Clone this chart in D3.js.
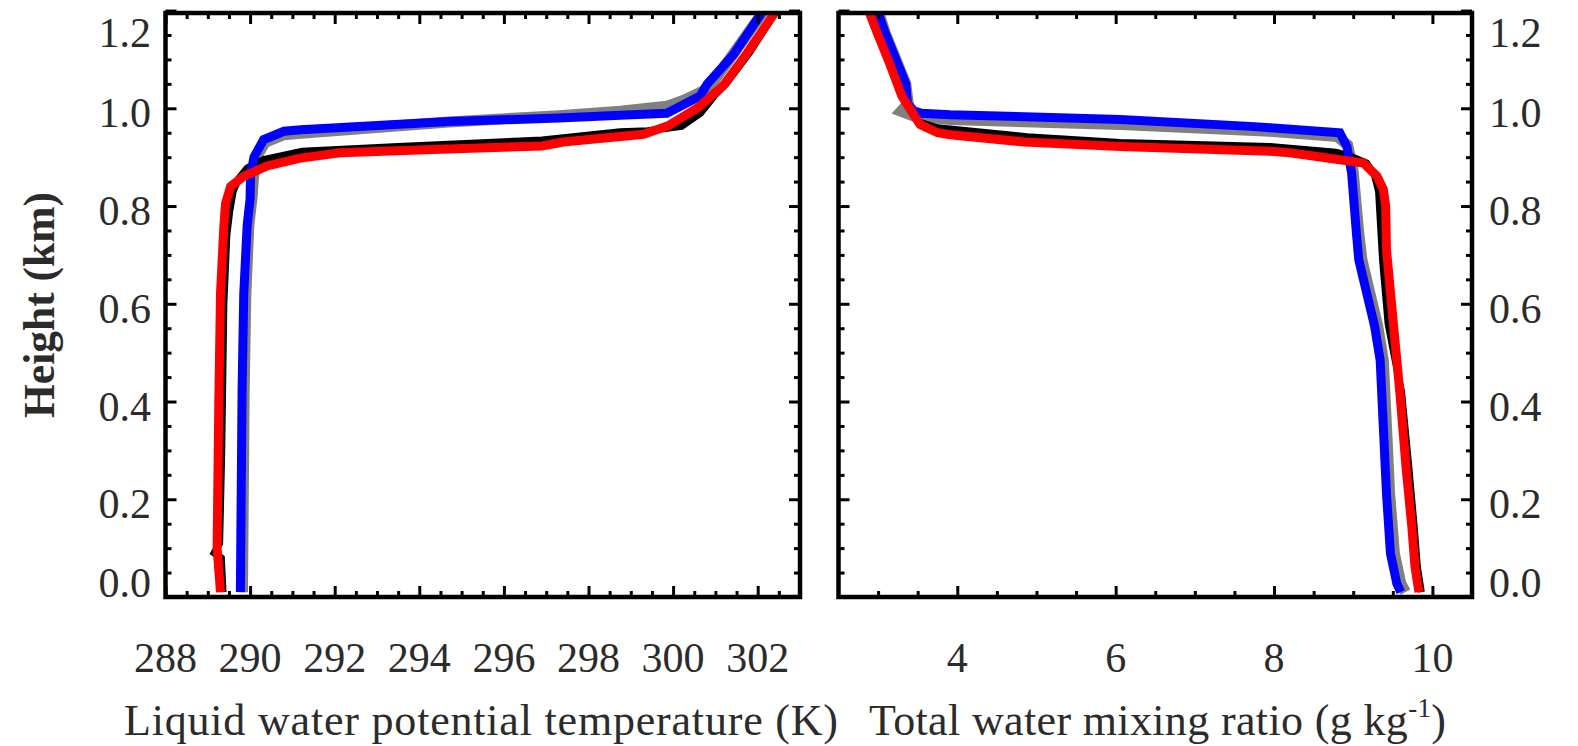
<!DOCTYPE html>
<html>
<head>
<meta charset="utf-8">
<script src="https://cdn.jsdelivr.net/npm/d3@7"></script>
<style>
  html, body { margin: 0; padding: 0; background: #fff; }
  svg { display: block; }
</style>
</head>
<body>
<svg id="chart" width="1578" height="746"></svg>
<script>
// ---- Profiles: [value, height (km)] ----
// Liquid water potential temperature (K)
const thlGray = [[289.82,0.01],[289.86,0.42],[289.90,0.62],[289.97,0.76],[290.05,0.82],[290.08,0.86],[290.15,0.90],[290.35,0.93],[290.8,0.946],[291.2,0.949],[294.7,0.972],[297.3,0.985],[298.75,0.994],[299.85,1.004],[300.3,1.018],[300.7,1.035],[301.0,1.06],[301.43,1.112],[302.15,1.2]];
const thlBlack = [[289.36,0.01],[289.32,0.08],[289.15,0.09],[289.28,0.11],[289.33,0.30],[289.38,0.60],[289.45,0.74],[289.52,0.79],[289.60,0.83],[289.72,0.855],[289.93,0.878],[290.32,0.895],[291.23,0.912],[293.5,0.922],[296.9,0.935],[298.75,0.952],[299.4,0.954],[300.2,0.963],[300.65,0.99],[301.0,1.028],[301.25,1.05],[301.8,1.113],[302.45,1.2]];
const thlBlue = [[289.77,0.01],[289.81,0.42],[289.85,0.62],[289.93,0.76],[290.0,0.815],[290.01,0.86],[290.09,0.90],[290.32,0.936],[290.8,0.953],[291.2,0.956],[294.7,0.973],[297.3,0.980],[298.75,0.986],[299.85,0.990],[300.64,1.025],[300.8,1.049],[301.43,1.110],[302.13,1.2]];
const thlRed = [[289.30,0.01],[289.22,0.10],[289.26,0.40],[289.30,0.62],[289.38,0.76],[289.42,0.805],[289.54,0.84],[289.85,0.861],[290.40,0.882],[291.19,0.898],[292.13,0.909],[294.5,0.916],[296.9,0.923],[297.4,0.931],[299.3,0.947],[299.9,0.965],[300.6,1.002],[301.2,1.048],[301.75,1.113],[302.44,1.2]];

// Total water mixing ratio (g/kg)
const qtGray = [[3.0,1.2],[3.09,1.154],[3.26,1.086],[3.35,1.05],[3.38,1.01],[3.29,0.994],[3.45,0.984],[3.91,0.977],[6.06,0.967],[7.95,0.953],[8.8,0.942],[8.93,0.925],[9.0,0.87],[9.07,0.745],[9.11,0.69],[9.21,0.622],[9.31,0.554],[9.38,0.485],[9.42,0.349],[9.46,0.212],[9.52,0.089],[9.6,0.028],[9.66,0.01]];
const qtBlack = [[2.88,1.2],[2.99,1.154],[3.15,1.09],[3.30,1.025],[3.41,0.997],[3.52,0.972],[3.75,0.960],[4.88,0.942],[6.06,0.930],[7.95,0.922],[8.78,0.910],[8.96,0.902],[9.17,0.888],[9.27,0.862],[9.32,0.83],[9.37,0.69],[9.44,0.56],[9.51,0.50],[9.61,0.42],[9.70,0.27],[9.77,0.144],[9.81,0.062],[9.86,0.01]];
const qtBlue = [[2.99,1.2],[3.09,1.154],[3.26,1.086],[3.35,1.05],[3.37,1.01],[3.45,0.995],[3.55,0.990],[3.91,0.987],[6.06,0.977],[7.70,0.963],[7.95,0.960],[8.83,0.950],[8.92,0.922],[8.98,0.867],[9.04,0.745],[9.07,0.69],[9.17,0.622],[9.27,0.554],[9.34,0.485],[9.38,0.349],[9.42,0.212],[9.47,0.089],[9.55,0.028],[9.60,0.01]];
const qtRed = [[2.88,1.2],[2.99,1.154],[3.15,1.09],[3.30,1.025],[3.41,0.997],[3.53,0.967],[3.75,0.950],[3.91,0.946],[4.85,0.931],[6.06,0.922],[7.95,0.912],[8.2,0.909],[9.13,0.888],[9.30,0.861],[9.38,0.834],[9.41,0.80],[9.42,0.711],[9.51,0.554],[9.59,0.417],[9.67,0.26],[9.74,0.144],[9.78,0.062],[9.83,0.01]];

// ---- Ticks and labels ----
const heightTicks = [0.0, 0.2, 0.4, 0.6, 0.8, 1.0, 1.2];
const thlTicks = [288, 290, 292, 294, 296, 298, 300, 302];
const qtTicks = [4, 6, 8, 10];
const xTitleLeft = "Liquid water potential temperature (K)";
const xTitleRight = "Total water mixing ratio (g kg";
const yTitle = "Height (km)";

const FONT = '"Liberation Serif"';
const INK = "#2b2b2b";

const svg = d3.select("#chart");

const plotTop = 13, plotBottom = 597;
const y = d3.scaleLinear().domain([0, 1.195]).range([plotBottom, plotTop]);
const xL = d3.scaleLinear().domain([288, 303]).range([165.5, 800]);
const xR = d3.scaleLinear().domain([2.5, 10.5]).range([838.5, 1472]);

const MAJ = 11, MIN = 6;
const majorY = heightTicks;
const minorY = d3.range(0.05, 1.19, 0.05).filter(v => Math.abs(v / 0.2 - Math.round(v / 0.2)) > 1e-6);

function stepRange(a, b, s) { return d3.range(a, b + 1e-9, s); }

function label(sel, size) {
  return sel.style("font-family", FONT).attr("font-size", size).attr("fill", INK);
}

// spread a title's letters so it spans the given width
function fitWidth(sel, width) {
  const node = sel.node();
  const n = node.getNumberOfChars();
  const len = node.getComputedTextLength();
  sel.attr("letter-spacing", (width - len) / (n - 1));
}

const series = [
  { key: "gray", color: "#808080", width: 11 },
  { key: "black", color: "#000000", width: 7 },
  { key: "blue", color: "#0000ff", width: 9 },
  { key: "red", color: "#ff0000", width: 9 }
];

function panel(id, x, data, majorX, minorX) {
  const [x0, x1] = x.range();
  const g = svg.append("g");

  const clipId = "clip-" + id;
  svg.append("defs").append("clipPath").attr("id", clipId)
    .append("rect").attr("x", x0).attr("y", plotTop).attr("width", x1 - x0).attr("height", plotBottom - plotTop);

  const line = d3.line().x(d => x(d[0])).y(d => y(d[1]));
  const lines = g.append("g").attr("clip-path", `url(#${clipId})`);
  series.forEach((s, i) => {
    lines.append("path")
      .datum(data[i])
      .attr("d", line)
      .attr("fill", "none")
      .attr("stroke", s.color)
      .attr("stroke-width", s.width)
      .attr("stroke-linejoin", "miter")
      .attr("stroke-miterlimit", 4)
      .attr("stroke-linecap", "butt");
  });

  // inward ticks on all four sides
  const tickStyle = sel => {
    sel.select(".domain").remove();
    sel.selectAll("line").attr("stroke", "#000").attr("stroke-width", 3);
    sel.selectAll("text").remove();
  };
  const addAxis = (axis, tx, ty) => g.append("g").attr("transform", `translate(${tx},${ty})`).call(axis).call(tickStyle);

  addAxis(d3.axisBottom(x).tickValues(majorX).tickSize(-MAJ), 0, plotBottom);
  addAxis(d3.axisBottom(x).tickValues(minorX).tickSize(-MIN), 0, plotBottom);
  addAxis(d3.axisTop(x).tickValues(majorX).tickSize(-MAJ), 0, plotTop);
  addAxis(d3.axisTop(x).tickValues(minorX).tickSize(-MIN), 0, plotTop);
  addAxis(d3.axisLeft(y).tickValues(majorY).tickSize(-MAJ), x0, 0);
  addAxis(d3.axisLeft(y).tickValues(minorY).tickSize(-MIN), x0, 0);
  addAxis(d3.axisRight(y).tickValues(majorY).tickSize(-MAJ), x1, 0);
  addAxis(d3.axisRight(y).tickValues(minorY).tickSize(-MIN), x1, 0);

  g.append("rect")
    .attr("x", x0).attr("y", plotTop).attr("width", x1 - x0).attr("height", plotBottom - plotTop)
    .attr("fill", "none").attr("stroke", "#000").attr("stroke-width", 4.5);

  // x tick labels
  g.selectAll("text.xl").data(majorX).enter().append("text")
    .attr("x", d => x(d)).attr("y", 672)
    .attr("text-anchor", "middle")
    .call(label, 42)
    .text(d => d);
  return g;
}

panel("l", xL, [thlGray, thlBlack, thlBlue, thlRed], thlTicks, stepRange(288.5, 302.5, 0.5).filter(v => v % 2 !== 0));
panel("r", xR, [qtGray, qtBlack, qtBlue, qtRed], qtTicks, stepRange(3, 10, 0.5).filter(v => v % 2 !== 0));

// height labels: left of the left panel, right of the right panel
const labelBase = v => Math.max(46.5, Math.min(597, y(v) + 19));
svg.selectAll("text.yl").data(heightTicks).enter().append("text")
  .attr("x", 151).attr("y", labelBase)
  .attr("text-anchor", "end")
  .call(label, 42)
  .text(d => d.toFixed(1));
svg.selectAll("text.yr").data(heightTicks).enter().append("text")
  .attr("x", 1489).attr("y", labelBase)
  .attr("text-anchor", "start")
  .call(label, 42)
  .text(d => d.toFixed(1));

// axis titles
const lt = svg.append("text")
  .attr("x", 124).attr("y", 735)
  .call(label, 44)
  .text(xTitleLeft);
fitWidth(lt, 714);

const rt = svg.append("text")
  .attr("x", 869).attr("y", 735)
  .call(label, 44);
rt.append("tspan").text(xTitleRight);
rt.append("tspan").attr("font-size", 27).attr("dy", -18).text("-1");
rt.append("tspan").attr("dy", 18).text(")");
fitWidth(rt, 577);

svg.append("text")
  .attr("transform", "translate(54,305) rotate(-90)")
  .attr("text-anchor", "middle")
  .call(label, 43.5)
  .attr("font-weight", "bold")
  .text(yTitle);
</script>
</body>
</html>
